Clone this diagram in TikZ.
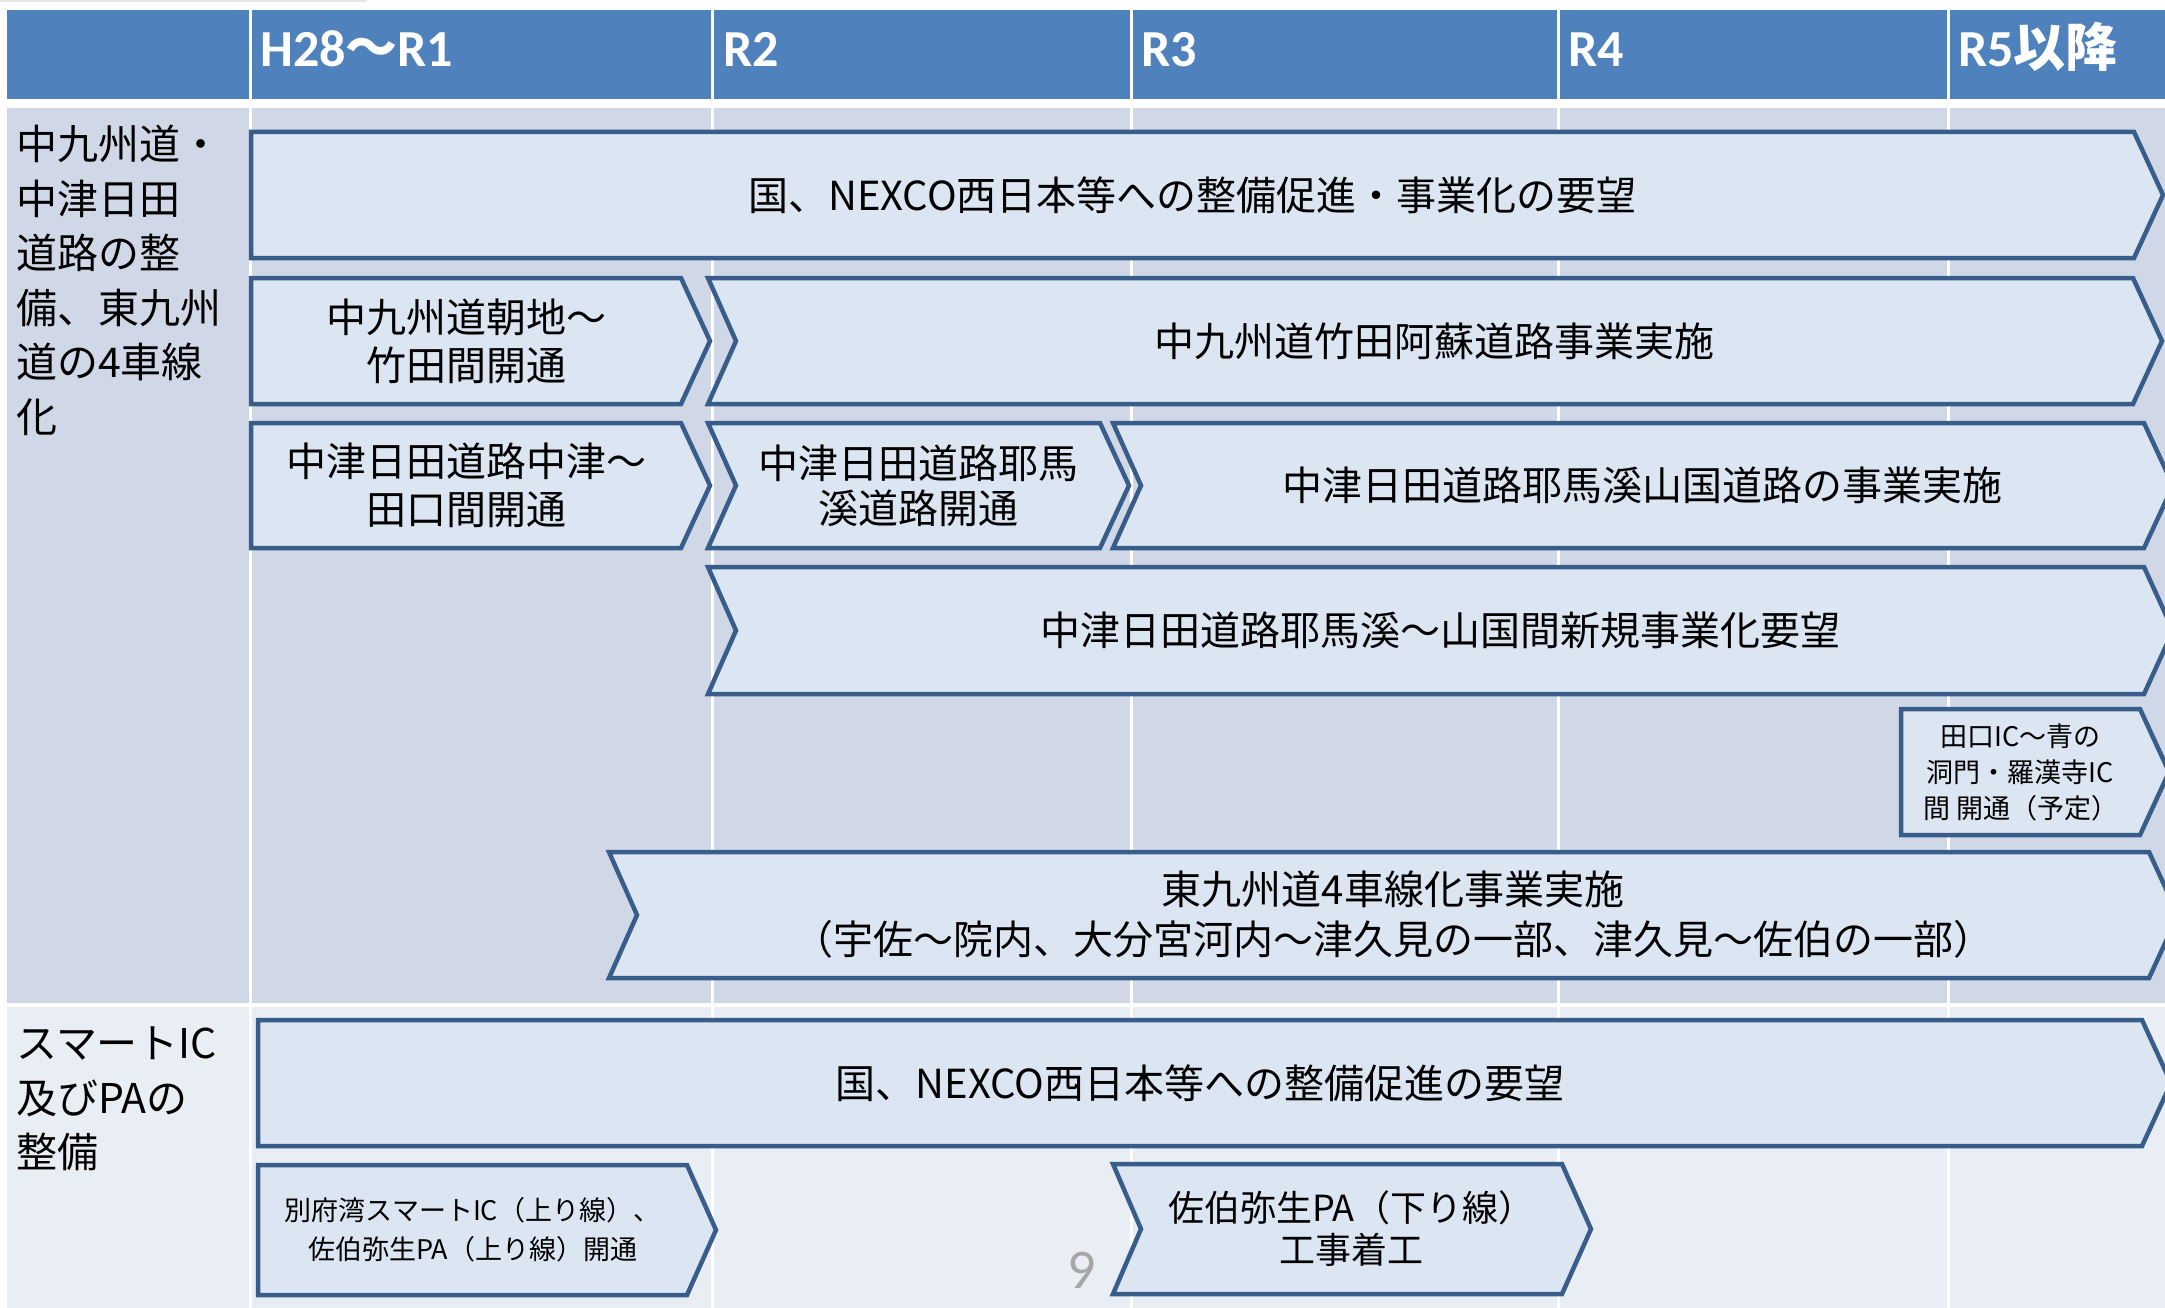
\documentclass[tikz,border=0pt]{standalone}
\usepackage{fontspec}
\setmainfont{Noto Sans CJK JP}
\newfontfamily\hdfont{Carlito}

\definecolor{hdblue}{HTML}{4F81BD}
\definecolor{bandA}{HTML}{D0D8E8}
\definecolor{bandB}{HTML}{E9EDF4}
\definecolor{chevfill}{HTML}{DCE6F2}
\definecolor{chevline}{HTML}{385D8A}
\definecolor{pagegray}{HTML}{A6A6A6}

% chevron: [text opts]{name}{left x}{end of flat top}{top y}{bottom y}{notch}{text}
\newcommand\chev[8][]{%
  \draw[chevbox] (#3,#5) -- (#4,#5) -- ({#4+29},{(#5+#6)/2}) -- (#4,#6)
    -- (#3,#6) -- ({#3+#7},{(#5+#6)/2}) -- cycle;
  \node[chevtext,#1] (#2) at ({(#3+#7+#4)/2},{(#5+#6)/2}) {#8};
}

\begin{document}
\begin{tikzpicture}[x=1pt, y=-1pt,
   chevbox/.style={draw=chevline, fill=chevfill, line width=4.5pt},
   chevtext/.style={align=center, inner sep=0pt, font=\fontsize{40}{47}\selectfont},
   smalltext/.style={font=\fontsize{27}{39}\selectfont},
   hdtext/.style={anchor=base west, inner sep=0pt, text=white,
                  font=\hdfont\bfseries\fontsize{52}{52}\selectfont},
   rowlabel/.style={anchor=north west, align=left, inner sep=0pt,
                    font=\fontsize{41}{54.5}\selectfont},
   colsep/.style={draw=white, line width=3pt}]

\useasboundingbox (0,0) rectangle (2165,1308);
\clip (0,0) rectangle (2165,1308);

% table
\fill[gray!20] (0,0) rectangle (367,2);
\fill[hdblue] (7,10) rectangle (2165,99);
\fill[bandA] (7,108) rectangle (2165,1003);
\fill[bandB] (7,1007) rectangle (2165,1308);
\foreach \x in {250,712,1131,1558,1948}
  \draw[colsep] (\x,10) -- (\x,1308);

\node[hdtext] (yr1) at (260,67) {H28{\rmfamily 〜}R1};
\node[hdtext] (yr2) at (723,67) {R2};
\node[hdtext] (yr3) at (1141,67) {R3};
\node[hdtext] (yr4) at (1568,67) {R4};
\node[hdtext] (yr5) at (1958,67) {R5{\rmfamily 以降}};

\node[rowlabel] (lab1) at (16,125) {中九州道・\\中津日田\\道路の整\\備、東九州\\道の4車線\\化};
\node[rowlabel] (lab2) at (16,1027) {スマートIC\\及びPAの\\整備};

% bars
\chev{ask1}{251}{2134}{132}{258}{0}{国、NEXCO西日本等への整備促進・事業化の要望}
\chev[font=\fontsize{40}{48}\selectfont]{open1}{251}{681}{278}{404}{0}{中九州道朝地〜\\竹田間開通}
\chev{work1}{708}{2133}{278}{404}{28}{中九州道竹田阿蘇道路事業実施}
\chev[font=\fontsize{40}{48}\selectfont]{open2}{251}{681}{423}{548}{0}{中津日田道路中津〜\\田口間開通}
\chev[font=\fontsize{40}{45}\selectfont]{open3}{708}{1100}{423}{548}{28}{中津日田道路耶馬\\溪道路開通}
\chev{work2}{1113}{2144}{423}{548}{28}{中津日田道路耶馬溪山国道路の事業実施}
\chev{ask2}{708}{2144}{567}{694}{28}{中津日田道路耶馬溪〜山国間新規事業化要望}
\chev[font=\fontsize{27}{36}\selectfont]{open4}{1901}{2140}{709}{835}{0}{田口IC〜青の\\洞門・羅漢寺IC\\間 開通（予定）}
\chev[font=\fontsize{40}{50}\selectfont]{work3}{609}{2149}{852}{978}{28}{東九州道4車線化事業実施\\（宇佐〜院内、大分宮河内〜津久見の一部、津久見〜佐伯の一部）}

\chev{ask3}{258}{2142}{1020}{1146}{0}{国、NEXCO西日本等への整備促進の要望}
\chev[smalltext]{open5}{258}{687}{1165}{1295}{0}{別府湾スマートIC（上り線）、\\佐伯弥生PA（上り線）開通}
\chev[font=\fontsize{36}{42}\selectfont]{work4}{1113}{1562}{1164}{1294}{28}{佐伯弥生PA（下り線）\\工事着工}

\node[anchor=base, inner sep=0pt, text=pagegray, font=\hdfont\fontsize{56}{56}\selectfont] (pgno) at (1082,1288) {9};

\end{tikzpicture}
\end{document}
